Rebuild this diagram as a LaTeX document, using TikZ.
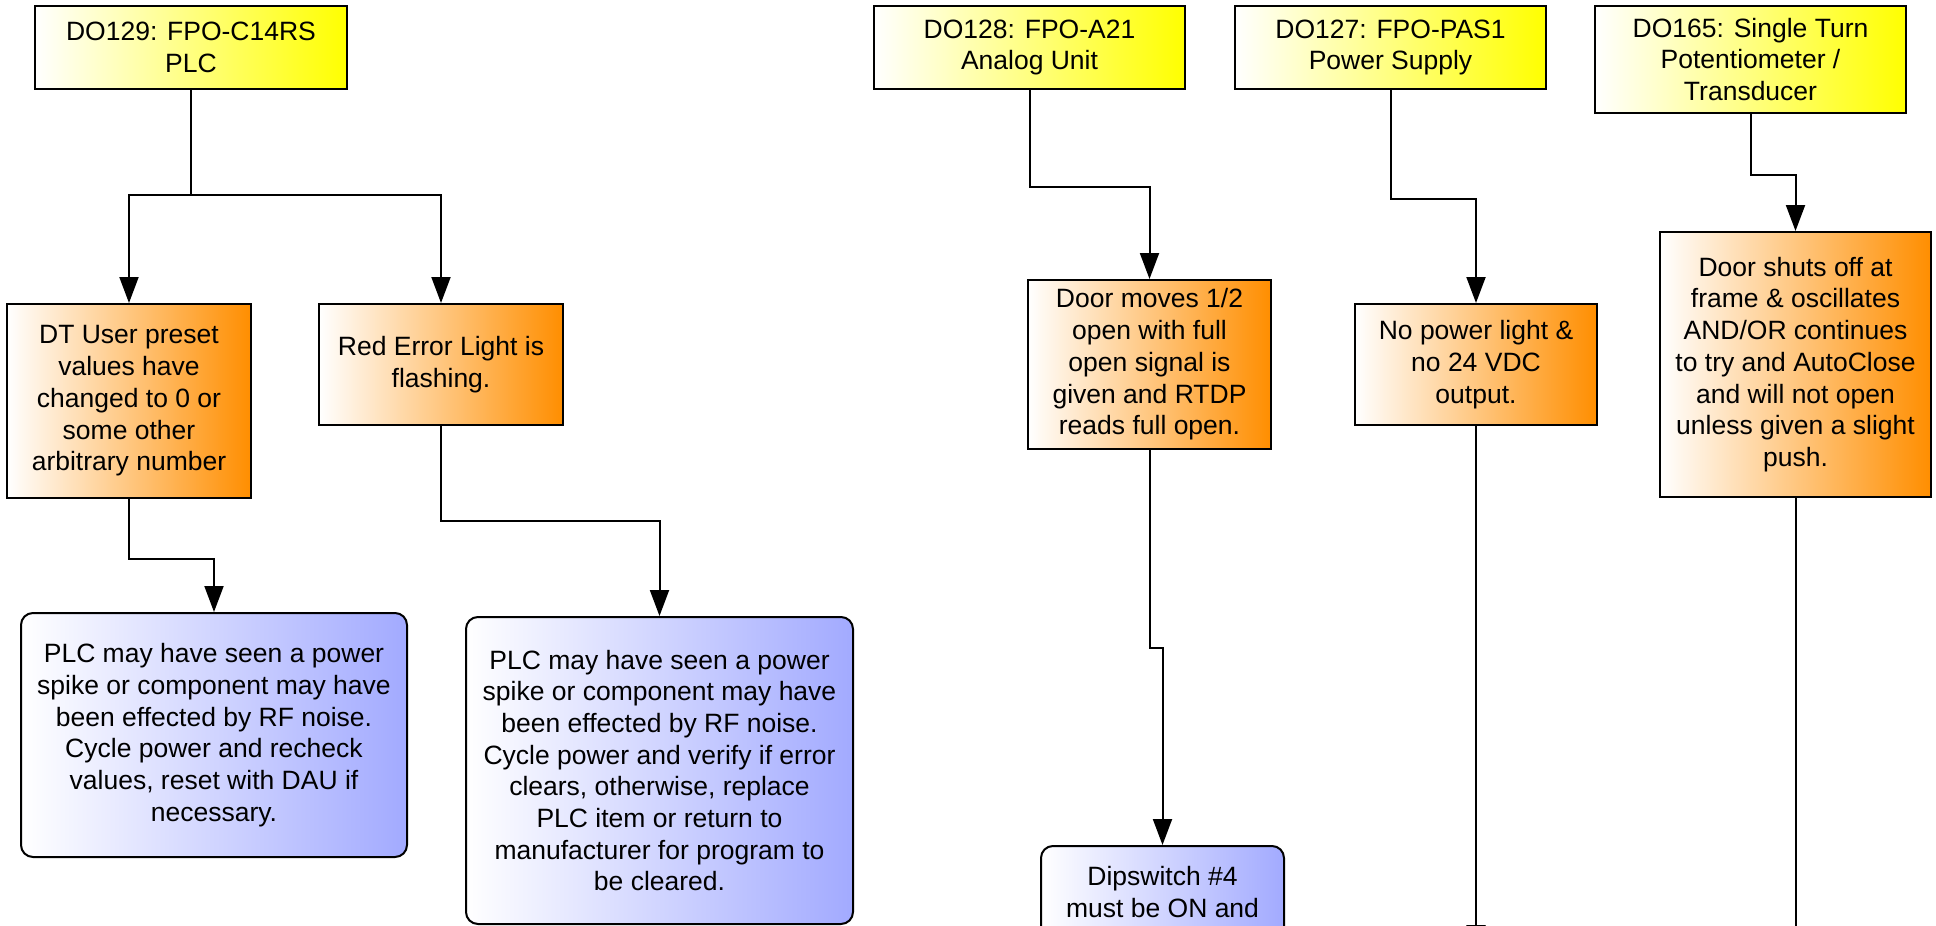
\documentclass[tikz,border=0pt]{standalone}
\usepackage{fontspec}
\setmainfont{Liberation Sans}
\usetikzlibrary{arrows.meta}
\definecolor{yel}{RGB}{255,255,0}
\definecolor{orng}{RGB}{255,142,0}
\definecolor{blu}{RGB}{162,170,255}
\begin{document}
\begin{tikzpicture}[x=1pt,y=-1pt,
  box/.style={draw=black, line width=2pt, align=center, inner sep=0pt,
              font=\fontsize{26.5}{31.7}\selectfont},
  ybox/.style={box, left color=white, right color=yel},
  obox/.style={box, left color=white, right color=orng},
  bbox/.style={box, rounded corners=12pt, left color=white, right color=blu},
  txt/.style={align=center, inner sep=0pt, font=\fontsize{26.5}{31.7}\selectfont},
  con/.style={line width=2pt},
  arr/.style={con, -{Triangle[width=19pt,length=26pt]}}
]
\useasboundingbox (0,0) rectangle (1936,926);
\clip (0,0) rectangle (1936,926);
\fill[white] (0,0) rectangle (1936,926);

% top (yellow) boxes
\node[ybox, minimum width=312pt, minimum height=83pt] (A) at (191,47.5)
  {DO129: FPO-C14RS\\PLC};
\node[ybox, minimum width=311pt, minimum height=83pt] (F) at (1029.5,47.5)
  {DO128: FPO-A21\\Analog Unit};
\node[ybox, minimum width=311pt, minimum height=83pt] (H) at (1390.5,47.5)
  {DO127: FPO-PAS1\\Power Supply};
\node[ybox, minimum width=311pt, minimum height=107pt] (J) at (1750.5,59.5)
  {DO165: Single Turn\\Potentiometer /\\Transducer};

% symptom (orange) boxes
\node[obox, minimum width=244pt, minimum height=194pt] (B) at (129,401)
  {DT User preset\\values have\\changed to 0 or\\some other\\arbitrary number};
\node[obox, minimum width=244pt, minimum height=121pt] (C) at (441,364.5)
  {Red Error Light is\\flashing.};
\node[obox, minimum width=243pt, minimum height=169pt] (G) at (1149.5,364.5)
  {Door moves 1/2\\open with full\\open signal is\\given and RTDP\\reads full open.};
\node[obox, minimum width=242pt, minimum height=121pt] (I) at (1476,364.5)
  {No power light \&\\no 24 VDC\\output.};
\node[obox, minimum width=271pt, minimum height=265pt] (K) at (1795.5,364.5)
  {Door shuts off at\\frame \& oscillates\\AND/OR continues\\to try and AutoClose\\and will not open\\unless given a slight\\push.};

% remedy (blue) boxes
\node[bbox, minimum width=386pt, minimum height=244pt] (D) at (214,735)
  {PLC may have seen a power\\spike or component may have\\been effected by RF noise.\\Cycle power and recheck\\values, reset with DAU if\\necessary.};
\node[bbox, minimum width=387pt, minimum height=307pt] (E) at (659.5,770.5)
  {PLC may have seen a power\\spike or component may have\\been effected by RF noise.\\Cycle power and verify if error\\clears, otherwise, replace\\PLC item or return to\\manufacturer for program to\\be cleared.};
\node[bbox, anchor=north, minimum width=243pt, minimum height=170pt] (L) at (1162.5,845) {};
\node[txt, anchor=north] (Lt) at (1162.5,866) {Dipswitch \#4\\must be ON and};

% free ends below the picture
\coordinate (Iend) at (1476,951);
\coordinate (Kend) at (1795.5,1000);

% connectors
\draw[arr] (A.south) -- ++(0,105) -| (B.north);
\draw[arr] (A.south) -- ++(0,105) -| (C.north);
\draw[arr] (B.south) -- ++(0,60) -| (D.north);
\draw[arr] (C.south) -- ++(0,95) -| (E.north);
\draw[arr] (F.south) -- ++(0,97) -| (G.north);
\draw[arr] (G.south) -- ++(0,198) -| (L.north);
\draw[arr] (H.south) -- ++(0,109) -| (I.north);
\draw[arr] (J.south) -- ++(0,61) -| (K.north);
\draw[arr] (I.south) -- (Iend);
\draw[arr] (K.south) -- (Kend);
\end{tikzpicture}
\end{document}
